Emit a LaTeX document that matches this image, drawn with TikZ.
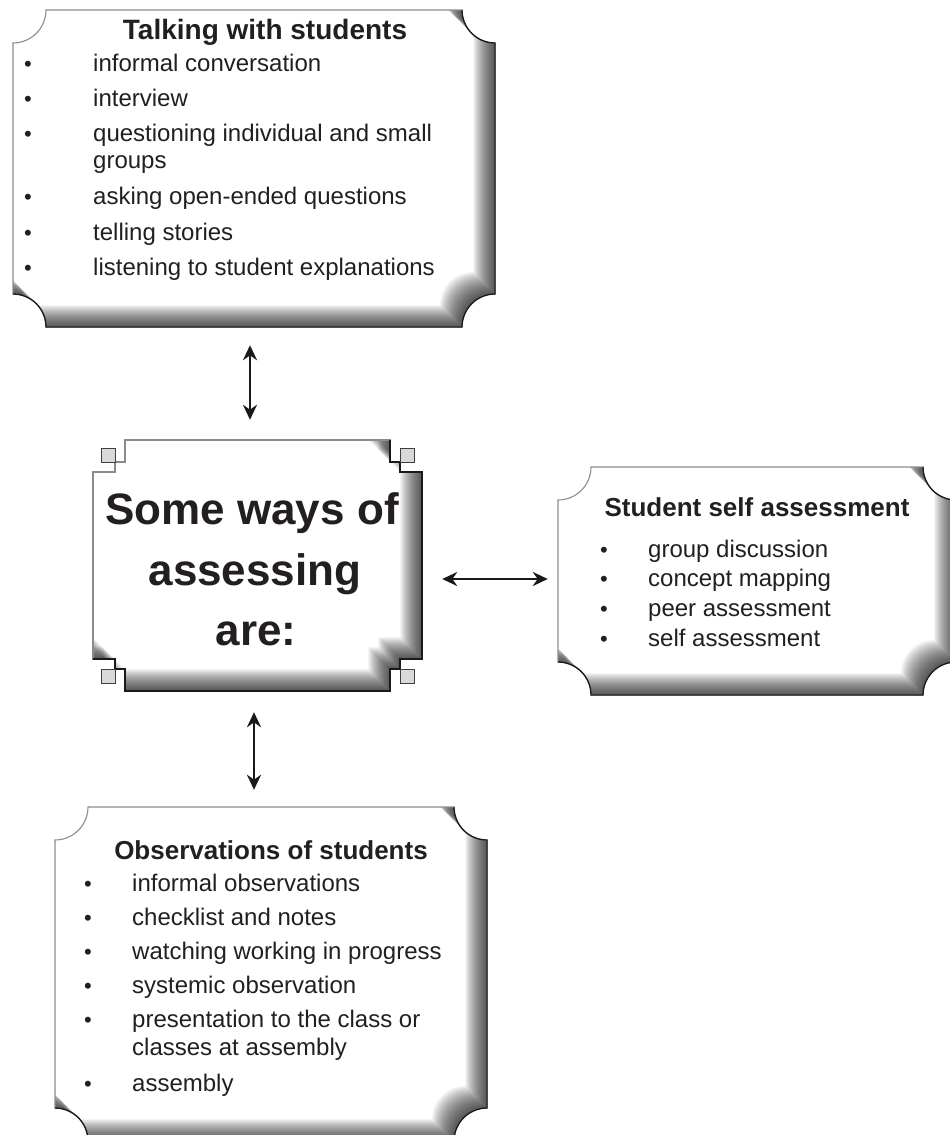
\documentclass[tikz,border=0pt]{standalone}
\usepackage{fontspec}
\setmainfont{Liberation Sans}
\usetikzlibrary{arrows.meta}
\definecolor{txt}{RGB}{35,31,32}
\newcommand\scallopbox[4]{(#1+33,#2) -- (#3-33,#2) .. controls (#3-33,#2+18.2) and (#3-18.2,#2+33) .. (#3,#2+33) -- (#3,#4-33) .. controls (#3-18.2,#4-33) and (#3-33,#4-18.2) .. (#3-33,#4) -- (#1+33,#4) .. controls (#1+33,#4-18.2) and (#1+18.2,#4-33) .. (#1,#4-33) -- (#1,#2+33) .. controls (#1+18.2,#2+33) and (#1+33,#2+18.2) .. (#1+33,#2) -- cycle}
\newcommand\scallopRB[4]{(#3-33,#2) .. controls (#3-33,#2+18.2) and (#3-18.2,#2+33) .. (#3,#2+33) -- (#3,#4-33) .. controls (#3-18.2,#4-33) and (#3-33,#4-18.2) .. (#3-33,#4) -- (#1+33,#4) .. controls (#1+33,#4-18.2) and (#1+18.2,#4-33) .. (#1,#4-33)}
\newcommand\notchbox[4]{(#1+32,#2) -- (#3-32,#2) -- (#3-32,#2+22) -- (#3-22,#2+22) -- (#3-22,#2+32) -- (#3,#2+32) -- (#3,#4-32) -- (#3-22,#4-32) -- (#3-22,#4-22) -- (#3-32,#4-22) -- (#3-32,#4) -- (#1+32,#4) -- (#1+32,#4-22) -- (#1+22,#4-22) -- (#1+22,#4-32) -- (#1,#4-32) -- (#1,#2+32) -- (#1+22,#2+32) -- (#1+22,#2+22) -- (#1+32,#2+22) -- cycle}
\newcommand\notchRB[4]{(#3-32,#2) -- (#3-32,#2+22) -- (#3-22,#2+22) -- (#3-22,#2+32) -- (#3,#2+32) -- (#3,#4-32) -- (#3-22,#4-32) -- (#3-22,#4-22) -- (#3-32,#4-22) -- (#3-32,#4) -- (#1+32,#4) -- (#1+32,#4-22) -- (#1+22,#4-22) -- (#1+22,#4-32) -- (#1,#4-32)}
\newcommand\panel[6]{%
  \fill[white] #1{#3}{#4}{#5}{#6};
  \begin{scope}
    \clip #1{#3}{#4}{#5}{#6};
    \foreach \d in {1,2,...,22}{
      \fill[black,fill opacity=0.042,even odd rule] (-100,-100) rectangle (1100,1300) #1{#3-\d}{#4-\d}{#5-\d}{#6-\d};
    }
  \end{scope}
  \draw[boxlight] #1{#3}{#4}{#5}{#6};
  \draw[boxdark] #2{#3}{#4}{#5}{#6};
}
\begin{document}
\begin{tikzpicture}[x=1pt,y=-1pt,
  boxlight/.style={draw=black!45,line width=1.1pt,line join=miter},
  boxdark/.style={draw=black!90,line width=1.3pt,line join=miter},
  boxname/.style={inner sep=0,draw=none},
  item/.style={anchor=base west,inner sep=0,text=txt,font=\fontsize{24}{28}\selectfont},
  bul/.style={anchor=base,inner sep=0,text=txt,font=\fontsize{22}{26}\selectfont},
  title/.style={anchor=base,inner sep=0,text=txt,font=\bfseries\fontsize{26}{30}\selectfont},
  big/.style={anchor=base,inner sep=0,text=txt,font=\bfseries\fontsize{44}{50}\selectfont},
  sq/.style={draw=black!75,fill=black!15,line width=1pt},
  biarrow/.style={{Stealth[length=15pt,width=14pt]}-{Stealth[length=15pt,width=14pt]},line width=2.4pt,draw=black!90}]
\useasboundingbox (0,0) rectangle (950,1135);
\clip (0,0) rectangle (950,1135);

% ---- Talking with students
\panel{\scallopbox}{\scallopRB}{13}{10}{495}{327}
\node[boxname,minimum width=482pt,minimum height=317pt] (talk) at (254,168.5) {};
\node[title,font=\bfseries\fontsize{28}{32}\selectfont] (t0) at (265,39) {Talking with students};
\node[bul] (tb1) at (28,71) {•};  \node[item] (t1) at (93,71) {informal conversation};
\node[bul] (tb2) at (28,106) {•}; \node[item] (t2) at (93,106) {interview};
\node[bul] (tb3) at (28,141) {•}; \node[item] (t3) at (93,141) {questioning individual and small};
\node[item] (t3b) at (93,168) {groups};
\node[bul] (tb4) at (28,204) {•}; \node[item] (t4) at (93,204) {asking open-ended questions};
\node[bul] (tb5) at (28,240) {•}; \node[item] (t5) at (93,240) {telling stories};
\node[bul] (tb6) at (28,275) {•}; \node[item] (t6) at (93,275) {listening to student explanations};

% ---- Central box
\panel{\notchbox}{\notchRB}{93}{440}{422}{691}
\draw[sq] (101,448) rectangle (115,462);
\draw[sq] (400,448) rectangle (414,462);
\draw[sq] (101,669) rectangle (115,683);
\draw[sq] (400,669) rectangle (414,683);
\node[boxname,minimum width=329pt,minimum height=251pt] (ways) at (257.5,565.5) {};
\node[big] (w1) at (252,524) {Some ways of};
\node[big] (w2) at (255,585) {assessing};
\node[big] (w3) at (256,645) {are:};

% ---- Student self assessment
\panel{\scallopbox}{\scallopRB}{558}{467}{956}{695}
\node[boxname,minimum width=398pt,minimum height=228pt] (self) at (757,581) {};
\node[title] (s0) at (757,516) {Student self assessment};
\node[bul] (sb1) at (604,557) {•}; \node[item] (s1) at (648,557) {group discussion};
\node[bul] (sb2) at (604,586) {•}; \node[item] (s2) at (648,586) {concept mapping};
\node[bul] (sb3) at (604,616) {•}; \node[item] (s3) at (648,616) {peer assessment};
\node[bul] (sb4) at (604,646) {•}; \node[item] (s4) at (648,646) {self assessment};

% ---- Observations of students
\panel{\scallopbox}{\scallopRB}{55}{807}{487}{1141}
\node[boxname,minimum width=432pt,minimum height=334pt] (obs) at (271,974) {};
\node[title] (o0) at (271,859) {Observations of students};
\node[bul] (ob1) at (88,891) {•};  \node[item] (o1) at (132,891) {informal observations};
\node[bul] (ob2) at (88,925) {•};  \node[item] (o2) at (132,925) {checklist and notes};
\node[bul] (ob3) at (88,959) {•};  \node[item] (o3) at (132,959) {watching working in progress};
\node[bul] (ob4) at (88,993) {•};  \node[item] (o4) at (132,993) {systemic observation};
\node[bul] (ob5) at (88,1027) {•}; \node[item] (o5) at (132,1027) {presentation to the class or};
\node[item] (o5b) at (132,1055) {classes at assembly};
\node[bul] (ob6) at (88,1091) {•}; \node[item] (o6) at (132,1091) {assembly};

% ---- Connectors
\draw[biarrow] ([xshift=-4pt,yshift=-18pt]talk.south) -- ([xshift=-7.5pt,yshift=20pt]ways.north);
\draw[biarrow] ([xshift=-3.5pt,yshift=-21pt]ways.south) -- ([xshift=-17pt,yshift=17pt]obs.north);
\draw[biarrow] ([xshift=20pt,yshift=-13.5pt]ways.east) -- ([xshift=-10pt,yshift=2pt]self.west);
\end{tikzpicture}
\end{document}
